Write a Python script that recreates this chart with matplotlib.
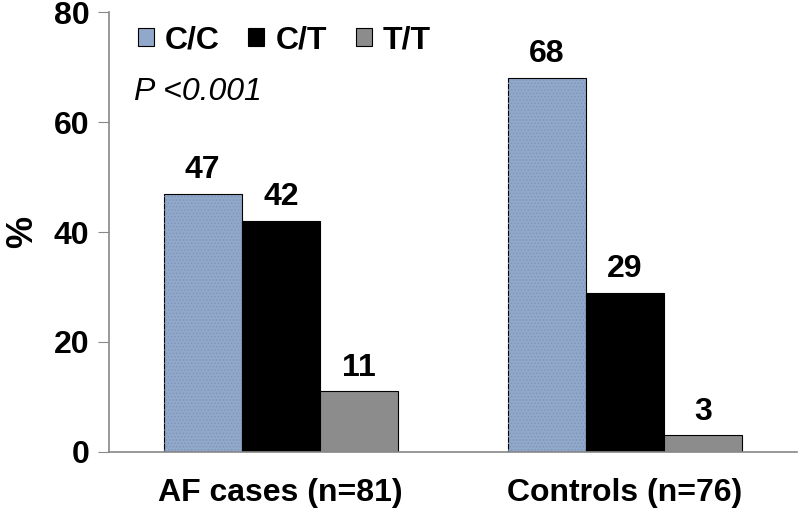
import matplotlib.pyplot as plt
import numpy as np

plt.rcParams['font.family'] = ['Liberation Sans', 'DejaVu Sans']
plt.rcParams['hatch.linewidth'] = 0.6

# genotype frequencies (%)
groups = ['AF cases (n=81)', 'Controls (n=76)']
genotypes = ['C/C', 'C/T', 'T/T']
cc = [47, 68]
ct = [42, 29]
tt = [11, 3]
colors = ['#92a8ca', '#000000', '#8c8c8c']

fig = plt.figure(figsize=(8, 5.31), dpi=100)
ax = fig.add_axes([0.136, 0.149, 0.86, 0.828])

x = np.arange(len(groups))
width = 0.227
for i, (vals, lab, col) in enumerate(zip([cc, ct, tt], genotypes, colors)):
    bars = ax.bar(x + (i - 1) * width, vals, width, color=col, edgecolor='black',
                  linewidth=0.8, label=lab)
    if i == 0:
        # dotted texture on the C/C bars
        ax.bar(x + (i - 1) * width, vals, width, fill=False, hatch='.....',
               edgecolor='#7f95b8', linewidth=0)
    for b, v in zip(bars, vals):
        ax.text(b.get_x() + b.get_width() / 2, v + 1.6, str(v), ha='center', va='bottom',
                fontsize=23, fontweight='bold')

ax.set_xlim(-0.5, 1.5)
ax.set_ylim(0, 80)
ax.set_yticks([0, 20, 40, 60, 80])
ax.set_xticks(x)
ax.set_xticklabels(groups)
ax.tick_params(axis='x', length=0, pad=19, labelsize=23)
ax.tick_params(axis='y', length=8, color='#888888', labelsize=23, pad=6)
for t in ax.get_xticklabels() + ax.get_yticklabels():
    t.set_fontweight('bold')

for s in ['top', 'right']:
    ax.spines[s].set_visible(False)
for s in ['left', 'bottom']:
    ax.spines[s].set_color('#888888')
    ax.spines[s].set_linewidth(1.2)

ax.set_ylabel('%', fontsize=26, fontweight='bold', labelpad=10)

ax.legend(loc='upper left', bbox_to_anchor=(0.0, 1.035), ncol=3, frameon=False,
          prop={'size': 23, 'weight': 'bold'}, handlelength=0.5, handleheight=0.5,
          handletextpad=0.35, columnspacing=0.9)

ax.text(0.037, 0.80, 'P <0.001', transform=ax.transAxes, fontsize=23, style='italic')

fig.savefig('out.png', dpi=100)
